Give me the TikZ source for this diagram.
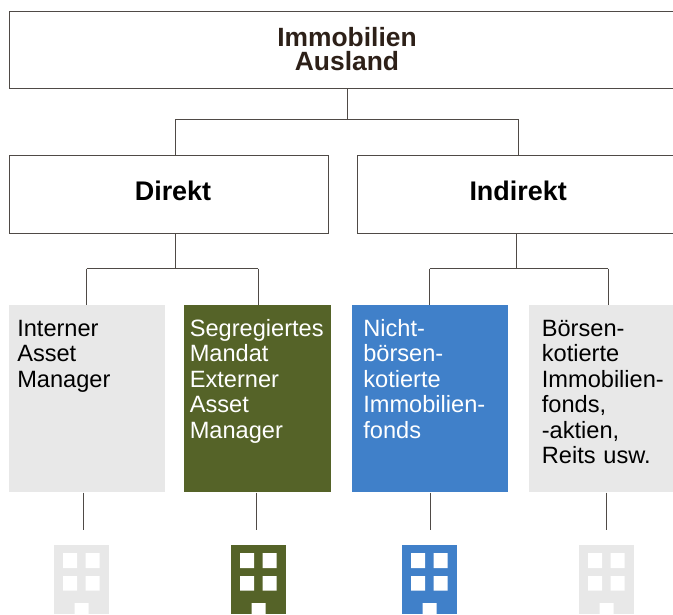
\documentclass[tikz,border=0pt]{standalone}
\usepackage{fontspec}
\setmainfont{Liberation Sans}
\usetikzlibrary{positioning}
\definecolor{titleink}{HTML}{2D2018}
\definecolor{lineink}{HTML}{4F4A46}
\definecolor{olive}{HTML}{556328}
\definecolor{skyblue}{HTML}{4080C9}
\definecolor{palegrey}{HTML}{E8E8E8}
\begin{document}
\begin{tikzpicture}[x=0.75pt,y=-0.75pt,
    head node/.style={draw=lineink,line width=0.6pt,fill=white,inner sep=0pt,align=center,font=\fontsize{20.2pt}{17.3pt}\selectfont\bfseries},
    fund node/.style={anchor=north west,inner ysep=0pt,align=left,text height=23.25pt,text depth=117pt,font=\fontsize{17.7pt}{19.15pt}\selectfont},
    link/.style={draw=lineink,line width=0.6pt}]
    \useasboundingbox (0,0) rectangle (673,614);

    \node[head node,minimum width=507pt,minimum height=57.75pt,text=titleink,text depth=1.5pt,font=\fontsize{19.8pt}{18pt}\selectfont\bfseries] (top) at (347,49.5) {Immobilien\\Ausland};
    \node[head node,minimum width=239.25pt,minimum height=58.5pt,text depth=4.5pt] (direkt) at (168.5,194) {\hspace*{6.75pt}Direkt};
    \node[head node,minimum width=241.5pt,minimum height=58.5pt,text depth=4.5pt] (indirekt) [right=21.25pt of direkt] {Indirekt};

    \node[fund node,fill=palegrey,inner xsep=6pt,text width=105pt] (intern) at (9,305) {Interner\\Asset\\Manager};
    \node[fund node,fill=olive,text=white,inner xsep=4.5pt,text width=101.25pt] (segregiert) [right=13.5pt of intern] {Segregiertes\\Mandat\\Externer\\Asset\\Manager};
    \node[fund node,fill=skyblue,text=white,inner xsep=8.25pt,text width=100.5pt] (nichtboerse) [right=15.75pt of segregiert] {Nicht-\\börsen-\\kotierte\\Immobilien-\\fonds};
    \node[fund node,fill=palegrey,inner xsep=9.75pt,text width=101.25pt] (boerse) [right=15pt of nichtboerse] {Börsen-\\kotierte\\Immobilien-\\fonds,\\-aktien,\\Reits usw.};

    \coordinate (up mid) at (347,119);
    \coordinate (up left) at (175.5,119);
    \coordinate (up right) at (518,119);
    \coordinate (fork a) at (175.5,268.5);
    \coordinate (fork a1) at (86.5,268.5);
    \coordinate (fork a2) at (258,268.5);
    \coordinate (fork b) at (516.5,268.5);
    \coordinate (fork b1) at (429.5,268.5);
    \coordinate (fork b2) at (608,268.5);
    \coordinate (foot 1) at (83,530);
    \coordinate (foot 2) at (256,530);
    \coordinate (foot 3) at (430.5,530);
    \coordinate (foot 4) at (606,530);

    \path[link]
        (top) edge (up mid)
        (up left) edge (up right)
        (up left) edge (up left |- direkt.north)
        (up right) edge (up right |- indirekt.north)
        (fork a |- direkt.south) edge (fork a)
        (fork b |- indirekt.south) edge (fork b)
        (fork a1) edge (fork a2)
        (fork b1) edge (fork b2)
        (fork a1) edge (fork a1 |- intern.north)
        (fork a2) edge (fork a2 |- segregiert.north)
        (fork b1) edge (fork b1 |- nichtboerse.north)
        (fork b2) edge (fork b2 |- boerse.north)
        (foot 1 |- intern.south) edge (foot 1)
        (foot 2 |- segregiert.south) edge (foot 2)
        (foot 3 |- nichtboerse.south) edge (foot 3)
        (foot 4 |- boerse.south) edge (foot 4)
        ;

    % buildings
    \foreach \x/\c in {54/palegrey,231/olive,402/skyblue,579/palegrey}{
        \fill[\c] (\x,545) rectangle ++(54.5,69);
        \fill[white] (\x+9,553) rectangle ++(14,15) (\x+31.5,553) rectangle ++(14,15)
            (\x+9,576) rectangle ++(14,14.5) (\x+31.5,576) rectangle ++(14,14.5)
            (\x+20.5,603) rectangle ++(14,11);
    }
\end{tikzpicture}
\end{document}
